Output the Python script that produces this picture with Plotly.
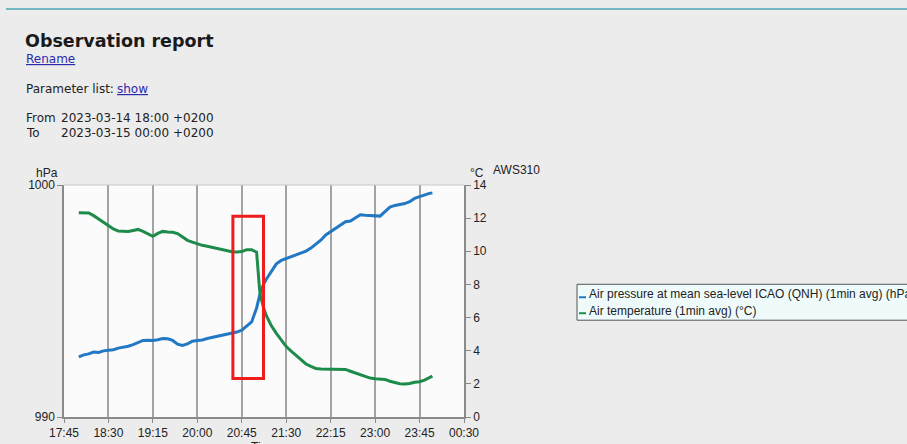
import pandas as pd
import plotly.graph_objects as go

# ---- data -------------------------------------------------------------
DAY = "2023-03-14"
times = [
    "18:00", "18:05", "18:10", "18:15", "18:20", "18:25", "18:30", "18:35", "18:40", "18:45",
    "18:50", "18:55", "19:00", "19:05", "19:10", "19:15", "19:20", "19:25", "19:30", "19:35",
    "19:40", "19:45", "19:50", "19:55", "20:00", "20:05", "20:10", "20:15", "20:20", "20:25",
    "20:30", "20:35", "20:40", "20:45", "20:50", "20:55", "21:00", "21:01", "21:02", "21:03",
    "21:04", "21:05", "21:07", "21:10", "21:15", "21:20", "21:25", "21:30", "21:35", "21:40",
    "21:45", "21:50", "21:55", "22:00", "22:05", "22:10", "22:15", "22:20", "22:25", "22:30",
    "22:35", "22:40", "22:45", "22:50", "22:55", "23:00", "23:05", "23:10", "23:15", "23:20",
    "23:25", "23:30", "23:35", "23:40", "23:45", "23:50", "23:55", "23:58",
]
pressure_hpa = [
    992.59, 992.68, 992.72, 992.80, 992.78, 992.85, 992.88, 992.90, 992.97, 993.00,
    993.05, 993.12, 993.20, 993.30, 993.31, 993.30, 993.33, 993.38, 993.37, 993.30,
    993.14, 993.08, 993.15, 993.27, 993.30, 993.32, 993.38, 993.43, 993.48, 993.50,
    993.56, 993.60, 993.66, 993.74, 993.90, 994.10, 994.70, 994.90, 995.10, 995.25,
    995.40, 995.50, 995.72, 995.95, 996.25, 996.60, 996.75, 996.83, 996.90, 996.96,
    997.05, 997.15, 997.28, 997.45, 997.62, 997.85, 998.00, 998.12, 998.30, 998.42,
    998.45, 998.60, 998.72, 998.70, 998.68, 998.65, 998.66, 998.85, 999.05, 999.12,
    999.15, 999.20, 999.28, 999.42, 999.50, 999.58, 999.64, 999.66,
]
temperature_c = [
    12.33, 12.33, 12.31, 12.15, 11.95, 11.75, 11.52, 11.35, 11.22, 11.20,
    11.20, 11.26, 11.32, 11.20, 11.03, 10.90, 11.08, 11.20, 11.17, 11.15,
    11.07, 10.85, 10.66, 10.55, 10.45, 10.36, 10.30, 10.24, 10.15, 10.09,
    10.03, 9.97, 9.96, 9.98, 10.10, 10.10, 9.95, 9.10, 8.30, 7.70,
    7.30, 7.00, 6.60, 6.10, 5.50, 5.05, 4.65, 4.25, 3.97, 3.72,
    3.42, 3.20, 3.05, 2.93, 2.89, 2.89, 2.89, 2.89, 2.89, 2.87,
    2.76, 2.65, 2.54, 2.43, 2.35, 2.31, 2.30, 2.27, 2.16, 2.08,
    2.01, 1.99, 2.02, 2.10, 2.13, 2.23, 2.38, 2.47,
]
pressure_name = "Air pressure at mean sea-level ICAO (QNH) (1min avg) (hPa)"
temperature_name = "Air temperature (1min avg) (°C)"
station = "AWS310"
period_from = "2023-03-14 18:00 +0200"
period_to = "2023-03-15 00:00 +0200"

# highlighted interval (time span and pressure span)
box_t0, box_t1 = "2023-03-14 20:36", "2023-03-14 21:07"
box_p0, box_p1 = 991.66, 998.65

x_start, x_end = "2023-03-14 17:45", "2023-03-15 00:30"
p_range = [990, 1000]
t_range = [0, 14]

stamps = pd.to_datetime([f"{DAY} {t}" for t in times])

# ---- page geometry (pixels) --------------------------------------------
W, H = 907, 444
L, R, T, B = 64, 464, 184.5, 417
PW, PH = R - L, B - T


def px(x):
    return (x - L) / PW


def py(y):
    return (B - y) / PH


BLUE = "#2278c3"
GREEN = "#1d8b49"
LINK = "#2b2bb0"
TEXT = "#222222"
CHART_FONT = "Liberation Sans, Arial, sans-serif"
PAGE_FONT = "DejaVu Sans, Verdana, sans-serif"

fig = go.Figure()
fig.add_trace(go.Scatter(x=stamps, y=pressure_hpa, name=pressure_name, mode="lines",
                         line=dict(color=BLUE, width=3), yaxis="y", showlegend=False))
fig.add_trace(go.Scatter(x=stamps, y=temperature_c, name=temperature_name, mode="lines",
                         line=dict(color=GREEN, width=3), yaxis="y2", showlegend=False))

shapes = [
    # thin rule at the top of the page
    dict(type="line", xref="paper", yref="paper", x0=px(6), x1=px(907), y0=py(8), y1=py(8),
         line=dict(color="#4fa6b8", width=1.5), layer="above"),
    # top border of the plotting area
    dict(type="line", xref="paper", yref="paper", x0=0, x1=1, y0=1, y1=1,
         line=dict(color="#c8c8c8", width=1)),
    # highlighted interval
    dict(type="rect", xref="x", yref="y", x0=box_t0, x1=box_t1, y0=box_p0, y1=box_p1,
         line=dict(color="#ee1c1c", width=3), fillcolor="rgba(0,0,0,0)", layer="above"),
    # legend box
    dict(type="rect", xref="paper", yref="paper", x0=px(577), x1=px(920), y0=py(320), y1=py(284),
         line=dict(color="#555555", width=1), fillcolor="#effbfb"),
    dict(type="line", xref="paper", yref="paper", x0=px(579), x1=px(586), y0=py(297), y1=py(297),
         line=dict(color=BLUE, width=2)),
    dict(type="line", xref="paper", yref="paper", x0=px(579), x1=px(586), y0=py(313), y1=py(313),
         line=dict(color=GREEN, width=2)),
]

ann = []


def text(x, y, s, size=12, color=TEXT, family=PAGE_FONT, xanchor="left", yanchor="middle"):
    ann.append(dict(x=px(x), y=py(y), xref="paper", yref="paper", text=s, showarrow=False,
                    xanchor=xanchor, yanchor=yanchor, align="left",
                    font=dict(size=size, color=color, family=family)))


text(23, 40, "<b>Observation report</b>", size=17.5, color="#1a1a1a")
text(24, 58, "<u>Rename</u>", size=12, color=LINK)
text(24, 88, "Parameter list: ", size=12)
text(115, 88, "<u>show</u>", size=12, color=LINK)
text(24, 117, "From", size=12)
text(59, 117, period_from, size=12)
text(24, 132, "To", size=12)
text(59, 132, period_to, size=12)

text(47, 172, "hPa", size=12, family=CHART_FONT, xanchor="center")
text(477, 172, "°C", size=12, family=CHART_FONT, xanchor="center")
text(491, 169, station, size=12, family=CHART_FONT)
text(264, 447, "Time", size=12, family=CHART_FONT, xanchor="center")
text(587, 294, pressure_name, size=12, family=CHART_FONT)
text(587, 311, temperature_name, size=12, family=CHART_FONT)

axis_common = dict(
    showline=True, linecolor="#8a8a8a", linewidth=1.5,
    ticks="outside", tickcolor="#8a8a8a",
    tickfont=dict(size=12, color=TEXT), zeroline=False, automargin=False,
)

fig.update_layout(
    width=W, height=H,
    margin=dict(l=L, r=W - R, t=T, b=H - B, pad=0, autoexpand=False),
    paper_bgcolor="#ececec",
    plot_bgcolor="#fbfbfc",
    font=dict(family=CHART_FONT, size=12, color=TEXT),
    shapes=shapes,
    annotations=ann,
    showlegend=False,
    xaxis=dict(
        type="date", range=[x_start, x_end],
        tick0=x_start, dtick=45 * 60 * 1000, tickformat="%H:%M",
        showgrid=True, gridcolor="#a3a3a3", gridwidth=1.5, ticklen=4,
        **axis_common,
    ),
    yaxis=dict(range=p_range, tickvals=p_range, showgrid=False, ticklen=5, **axis_common),
    yaxis2=dict(range=t_range, dtick=2, overlaying="y", side="right", anchor="x",
                showgrid=False, ticklen=5, **axis_common),
)

fig.write_html("out.html")
